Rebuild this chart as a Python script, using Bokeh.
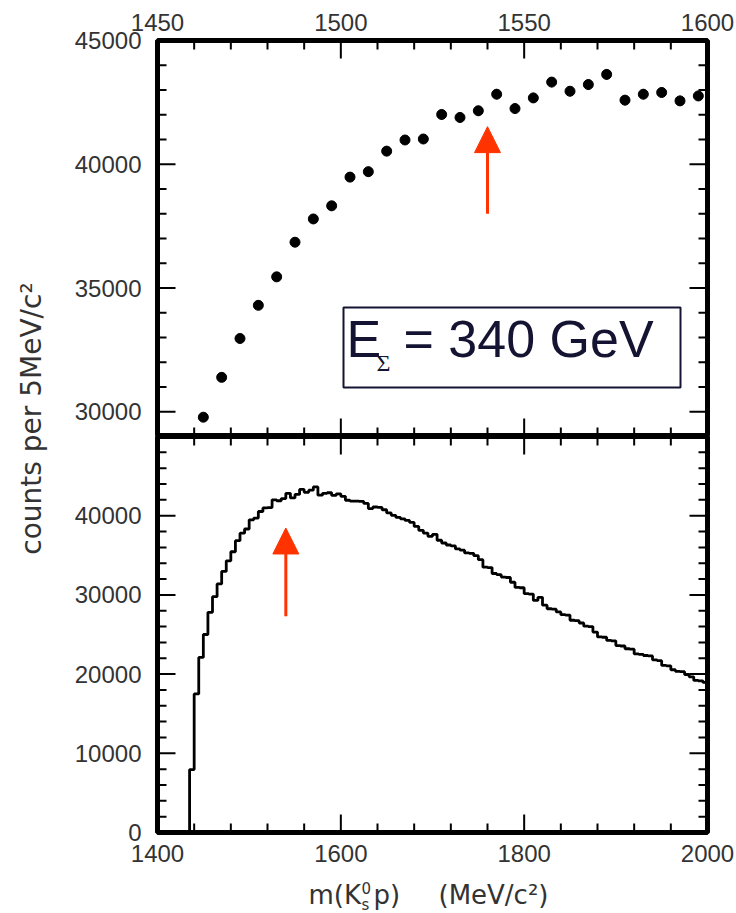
import math
import numpy as np
from bokeh.plotting import figure
from bokeh.models import (Range1d, LinearAxis, FixedTicker, Label, ColumnDataSource,
                          BoxAnnotation, Arrow, NormalHead)
from bokeh.layouts import row, column
from bokeh.embed import file_html
from bokeh.resources import INLINE

# ---------------------------------------------------------------------------
# K0s p invariant-mass spectrum, 5 MeV/c^2 bins starting at threshold
# ---------------------------------------------------------------------------
bin_start = 1435.0
bin_width = 5.0
counts = [
    7950, 17500, 22100, 25000, 27800, 29780, 31390, 32960, 34300, 35450,
    36850, 37790, 38320, 39480, 39700, 40530, 40980, 41020, 42010, 41890,
    42160, 42830, 42250, 42680, 43320, 42950, 43220, 43630, 42590, 42830,
    42900, 42560, 42760, 42450, 41950, 41850, 41850, 41800, 41550, 40900,
    41100, 41050, 40750, 40350, 40050, 39800, 39600, 39400, 39150, 38650,
    38150, 37800, 37400, 37650, 36900, 36550, 36300, 36200, 35800, 35650,
    35300, 35250, 34950, 34450, 33500, 33450, 32700, 32550, 32250, 32200,
    31600, 30950, 30900, 30150, 30100, 29300, 29700, 28700, 28250, 28200,
    27850, 27500, 27450, 26800, 26750, 26450, 26050, 26000, 25300, 24700,
    24650, 24250, 24200, 23600, 23550, 23200, 23150, 22550, 22500, 22350,
    22300, 21800, 21700, 21100, 21050, 20550, 20350, 20300, 19950, 19650,
    19200, 19150, 18950,
]

# axis windows: zoomed view (upper panel) and full view (lower panel)
zoom_x = (1450, 1600)
zoom_y = (29000, 45000)
full_x = (1400, 2000)
full_y = (0, 50000)
zoom_x_ticks = [1450, 1500, 1550, 1600]
zoom_y_ticks = [30000, 35000, 40000, 45000]
full_x_ticks = [1400, 1600, 1800, 2000]
full_y_ticks = [0, 10000, 20000, 30000, 40000]

# marked mass and the arrow extents in each panel (counts)
marked_mass = 1540
zoom_arrow = (38000, 41520)
full_arrow = (27300, 38450)

energy_label = "340 GeV"
y_title = "counts per 5MeV/c\u00b2"

# ---------------------------------------------------------------------------
# page geometry (pixels)
# ---------------------------------------------------------------------------
PAGE_W, PAGE_H = 736, 913
TITLE_W = 60
FRAME_L = 157
FRAME_W = 550
FRAME_R = FRAME_L + FRAME_W
FRAME_H = 396
TOP_FRAME_T = 40
BOT_FRAME_T = TOP_FRAME_T + FRAME_H
BOT_AXIS_H = 42
XTITLE_T = BOT_FRAME_T + FRAME_H + BOT_AXIS_H
MAJOR_LEN, MINOR_LEN = 18, 9

RED = "#ff3300"
INK = "#333333"
NAVY = "#141432"
TICK_FONT = "Liberation Sans"
TITLE_FONT = "DejaVu Sans"

edges = bin_start + bin_width * np.arange(len(counts) + 1)
centers = edges[:-1] + bin_width / 2
vals = np.asarray(counts, dtype=float)


def top_xy(px, py):
    x = zoom_x[0] + (px - FRAME_L) * (zoom_x[1] - zoom_x[0]) / FRAME_W
    y = zoom_y[1] - (py - TOP_FRAME_T) * (zoom_y[1] - zoom_y[0]) / FRAME_H
    return x, y


def page_xy(px, py):
    return px, py


def tick_positions(lo, hi, labelled):
    """Major ticks every label step across the whole range, 5 minor divisions."""
    step = labelled[1] - labelled[0]
    sub = step / 5
    first = math.ceil(lo / sub - 1e-9) * sub
    pos = np.arange(first, hi + 1e-6, sub)
    k = np.round((pos - labelled[0]) / sub).astype(int)
    is_major = (k % 5) == 0
    return pos[is_major], pos[~is_major]


def frame_ticks(p, xr, yr, xt, yt):
    """Inward ticks on all four sides, drawn as head-less arrow strokes."""
    dx = (xr[1] - xr[0]) / FRAME_W   # data units per pixel
    dy = (yr[1] - yr[0]) / FRAME_H
    xmaj, xmin = tick_positions(xr[0], xr[1], xt)
    ymaj, ymin = tick_positions(yr[0], yr[1], yt)
    x0, y0, x1, y1 = [], [], [], []
    for xs, length in ((xmaj, MAJOR_LEN), (xmin, MINOR_LEN)):
        for xv in xs:
            x0 += [xv, xv]
            x1 += [xv, xv]
            y0 += [yr[0], yr[1]]
            y1 += [yr[0] + length * dy, yr[1] - length * dy]
    for ys, length in ((ymaj, MAJOR_LEN), (ymin, MINOR_LEN)):
        for yv in ys:
            y0 += [yv, yv]
            y1 += [yv, yv]
            x0 += [xr[0], xr[1]]
            x1 += [xr[0] + length * dx, xr[1] - length * dx]
    src = ColumnDataSource(dict(x0=[float(v) for v in x0], y0=[float(v) for v in y0],
                                x1=[float(v) for v in x1], y1=[float(v) for v in y1]))
    p.add_layout(Arrow(start=None, end=None, x_start="x0", y_start="y0",
                       x_end="x1", y_end="y1", source=src,
                       line_color="black", line_width=2))


def label_axis(ticks, standoff):
    ax = LinearAxis(ticker=FixedTicker(ticks=ticks, minor_ticks=[]))
    ax.axis_line_color = None
    ax.major_tick_in = 0
    ax.major_tick_out = 0
    ax.minor_tick_in = 0
    ax.minor_tick_out = 0
    ax.major_label_text_font = TICK_FONT
    ax.major_label_text_font_size = "24px"
    ax.major_label_text_color = INK
    ax.major_label_standoff = standoff
    return ax


def strip(xr, yr, height, border_top=0, border_bottom=0):
    p = figure(frame_width=FRAME_W, frame_height=height,
               x_range=Range1d(*xr), y_range=Range1d(*yr),
               x_axis_type=None, y_axis_type=None,
               min_border_left=FRAME_L - TITLE_W,
               min_border_right=PAGE_W - FRAME_R,
               min_border_top=border_top, min_border_bottom=border_bottom,
               toolbar_location=None, output_backend="svg")
    p.background_fill_color = "white"
    p.border_fill_color = "white"
    return p


def panel(xr, yr, border_top, border_bottom):
    p = strip(xr, yr, FRAME_H, border_top, border_bottom)
    p.outline_line_color = "black"
    p.outline_line_width = 5
    return p


def text(p, to_data, px, py_base, txt, size, font, color):
    """Place text whose baseline sits at page pixel py_base."""
    x, y = to_data(px, py_base - 0.40 * size)
    p.add_layout(Label(x=x, y=y, text=txt, text_font=font,
                       text_font_size=f"{size}px", text_color=color,
                       text_baseline="middle", text_align="left"))


# ----------------------------- upper panel ---------------------------------
top = panel(zoom_x, zoom_y, TOP_FRAME_T, 0)
top.add_layout(label_axis(zoom_x_ticks, 10), "above")
top.add_layout(label_axis(zoom_y_ticks, 16), "left")

err = np.sqrt(vals)
top.segment(x0=centers, y0=vals - err, x1=centers, y1=vals + err,
            line_color="black", line_width=1.5)
top.scatter(x=centers, y=vals, size=10, marker="circle",
            fill_color="black", line_color="black")
frame_ticks(top, zoom_x, zoom_y, zoom_x_ticks, zoom_y_ticks)

top.add_layout(Arrow(end=NormalHead(size=26, fill_color=RED, line_color=RED, line_width=1),
                     x_start=marked_mass, y_start=zoom_arrow[0],
                     x_end=marked_mass, y_end=zoom_arrow[1],
                     line_color=RED, line_width=3))

bx0, by0 = top_xy(343, 307)
bx1, by1 = top_xy(680, 387)
top.add_layout(BoxAnnotation(left=bx0, right=bx1, top=by0, bottom=by1,
                             fill_color="white", fill_alpha=1.0,
                             line_color=NAVY, line_alpha=1.0, line_width=2))
text(top, top_xy, 346, 359, "E", 52, TICK_FONT, NAVY)
text(top, top_xy, 376, 372, "\u03a3", 24, "Liberation Serif", NAVY)
text(top, top_xy, 403, 359, "= " + energy_label, 52, TICK_FONT, NAVY)

# ----------------------------- lower panel ---------------------------------
bot = panel(full_x, full_y, 0, BOT_AXIS_H)
bot.add_layout(label_axis(full_x_ticks, 12), "below")
bot.add_layout(label_axis(full_y_ticks, 16), "left")

step_x = np.concatenate([[edges[0]], edges])
step_y = np.concatenate([[0.0], vals, [vals[-1]]])
bot.step(x=step_x, y=step_y, mode="after", line_color="black", line_width=2.8)
frame_ticks(bot, full_x, full_y, full_x_ticks, full_y_ticks)

bot.add_layout(Arrow(end=NormalHead(size=26, fill_color=RED, line_color=RED, line_width=1),
                     x_start=marked_mass, y_start=full_arrow[0],
                     x_end=marked_mass, y_end=full_arrow[1],
                     line_color=RED, line_width=3))

# ----------------------------- x-axis title --------------------------------
# m(K0s p)   (MeV/c^2), with stacked super/subscript; coordinates are page pixels
xt = strip((FRAME_L, FRAME_R), (PAGE_H, XTITLE_T), PAGE_H - XTITLE_T)
xt.outline_line_color = None
text(xt, page_xy, 308, 905, "m(K", 26, TITLE_FONT, INK)
text(xt, page_xy, 361, 893, "0", 15, TITLE_FONT, INK)
text(xt, page_xy, 361, 910, "s", 15, TITLE_FONT, INK)
text(xt, page_xy, 373, 905, "p)", 26, TITLE_FONT, INK)
text(xt, page_xy, 438, 905, "(MeV/c\u00b2)", 26, TITLE_FONT, INK)

# ----------------------------- y-axis title --------------------------------
side = figure(frame_width=TITLE_W, frame_height=PAGE_H,
              x_range=Range1d(0, TITLE_W), y_range=Range1d(PAGE_H, 0),
              x_axis_type=None, y_axis_type=None,
              min_border=0, toolbar_location=None, output_backend="svg")
side.outline_line_color = None
side.add_layout(Label(x=31, y=418, text=y_title, angle=math.pi / 2,
                      text_font=TITLE_FONT, text_font_size="28px",
                      text_color=INK, text_align="center", text_baseline="middle"))

layout = row(side, column(top, bot, xt))
open("out.html", "w").write(file_html(layout, INLINE))
